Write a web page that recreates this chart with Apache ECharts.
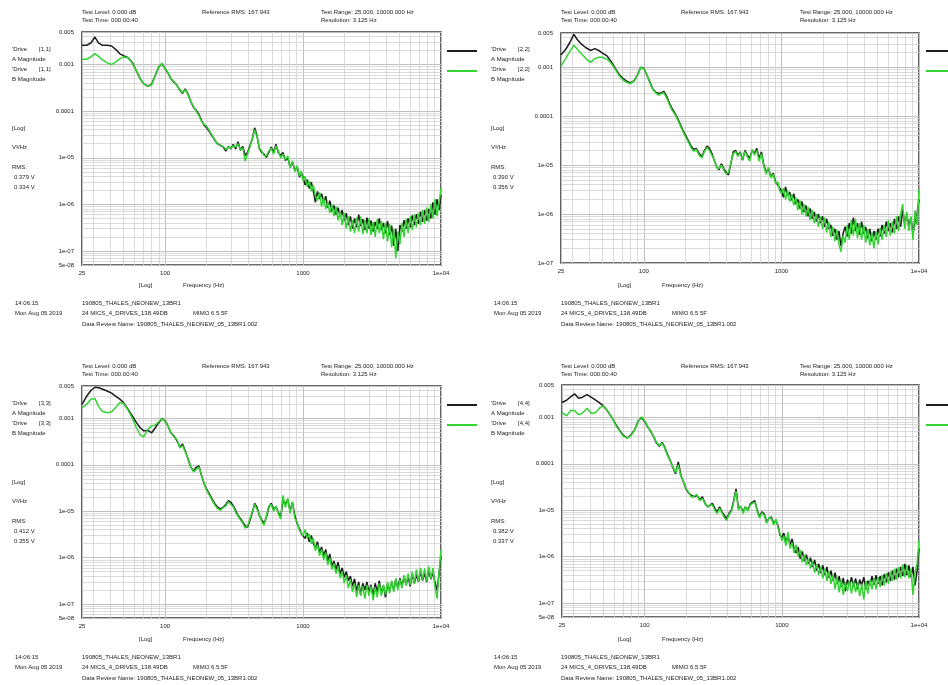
<!DOCTYPE html>
<html><head><meta charset="utf-8">
<script src="https://cdn.jsdelivr.net/npm/echarts@6/dist/echarts.min.js"></script>
<style>html,body{margin:0;padding:0;background:#fff}#c{width:948px;height:685px}</style>
</head><body><div id="c"></div>
<script>
// ---------- DATA ----------
const freqHz = [
25,27,29,31,33,35,38,41,44,47,50,54,58,62,66,70,75,80,85,90,95,100,
105,110,116,122,128,134,140,147,154,161,168,176,184,192,200,210,220,230,240,252,264,276,288,300,
312,325,338,352,366,381,396,412,429,446,464,483,502,522,543,565,588,612,636,662,688,716,745,775,806,838,872,907,943,970,
1000,1035,1071,1109,1148,1188,1229,1272,1317,1363,1411,1460,1511,1564,1619,1675,1734,1795,1857,1922,1990,2059,2131,2206,2283,2363,2446,2532,2620,2712,2807,2905,3007,3112,3221,3334,3450,3571,3696,3825,3959,4098,4241,4390,4543,4702,4867,5037,5214,5396,5585,5780,5983,6192,6409,6633,6865,7106,7354,7612,7878,8154,8439,8735,9040,9357,9684,10000];

const drive11A = [
2.6e-3,2.6e-3,2.9e-3,3.9e-3,2.9e-3,2.6e-3,2.6e-3,2.5e-3,2.1e-3,1.7e-3,1.55e-3,1.4e-3,1.1e-3,7.3e-4,5.0e-4,3.9e-4,3.4e-4,3.8e-4,5.9e-4,8.9e-4,1.05e-3,8.2e-4,
6.6e-4,5.0e-4,4.2e-4,3.6e-4,2.8e-4,2.4e-4,3.0e-4,2.3e-4,1.58e-4,1.2e-4,1.05e-4,8.5e-5,6.3e-5,5.0e-5,4.4e-5,3.6e-5,2.9e-5,2.35e-5,2.0e-5,1.85e-5,1.7e-5,1.4e-5,1.75e-5,1.55e-5,
1.95e-5,1.55e-5,2.2e-5,1.45e-5,1.75e-5,1.12e-5,1.3e-5,1.8e-5,2.6e-5,4.4e-5,3.0e-5,1.55e-5,1.3e-5,1.2e-5,1.02e-5,1.3e-5,1.7e-5,1.3e-5,1.95e-5,1.3e-5,1.12e-5,1.3e-5,8.7e-6,1.02e-5,6.3e-6,8.1e-6,5.4e-6,6.3e-6,3.8e-6,4.9e-6,
3.8e-6,2.6e-6,3.4e-6,2.2e-6,3.0e-6,1.9e-6,1.1e-6,1.9e-6,1.3e-6,1.7e-6,1.1e-6,1.5e-6,8.5e-7,1.2e-6,7.0e-7,9.5e-7,6.0e-7,8.5e-7,5.5e-7,7.5e-7,4.5e-7,6.5e-7,3.6e-7,5.5e-7,3.0e-7,5.0e-7,3.2e-7,6.0e-7,3.4e-7,4.8e-7,2.8e-7,5.2e-7,3.0e-7,4.5e-7,2.6e-7,4.2e-7,3.0e-7,5.0e-7,2.8e-7,4.0e-7,2.4e-7,4.4e-7,2.2e-7,3.5e-7,1.3e-7,3.0e-7,1.0e-7,3.6e-7,2.6e-7,4.6e-7,3.0e-7,5.0e-7,3.2e-7,5.8e-7,3.6e-7,6.2e-7,3.8e-7,7.0e-7,4.2e-7,7.5e-7,4.5e-7,8.0e-7,5.0e-7,1.1e-6,6.0e-7,1.3e-6,7.5e-7,1.6e-6];
const drive11B = [
1.3e-3,1.3e-3,1.46e-3,1.72e-3,1.5e-3,1.28e-3,1.09e-3,1.0e-3,1.14e-3,1.32e-3,1.46e-3,1.4e-3,1.05e-3,7.3e-4,4.9e-4,3.9e-4,3.4e-4,3.7e-4,5.9e-4,9.1e-4,1.07e-3,8.0e-4,
6.8e-4,5.1e-4,4.3e-4,3.5e-4,2.9e-4,2.5e-4,2.9e-4,2.2e-4,1.6e-4,1.25e-4,1.0e-4,8.0e-5,6.0e-5,5.2e-5,4.8e-5,3.8e-5,3.0e-5,2.4e-5,2.0e-5,1.8e-5,1.75e-5,1.5e-5,1.7e-5,1.6e-5,
1.8e-5,1.7e-5,2.0e-5,1.5e-5,1.6e-5,8.5e-6,1.2e-5,1.7e-5,2.5e-5,4.0e-5,2.8e-5,1.6e-5,1.4e-5,1.1e-5,1.1e-5,1.4e-5,1.6e-5,1.2e-5,1.8e-5,1.4e-5,1.0e-5,1.2e-5,9.0e-6,1.1e-5,6.0e-6,8.5e-6,5.0e-6,6.8e-6,4.0e-6,5.2e-6,
3.2e-6,4.0e-6,2.4e-6,3.2e-6,1.9e-6,2.6e-6,1.5e-6,1.2e-6,1.8e-6,9.0e-7,1.4e-6,8.0e-7,1.1e-6,6.5e-7,1.0e-6,5.5e-7,9.0e-7,4.5e-7,7.0e-7,3.6e-7,6.5e-7,3.0e-7,5.5e-7,2.6e-7,4.6e-7,2.4e-7,5.2e-7,2.6e-7,5.5e-7,2.3e-7,4.6e-7,2.4e-7,5.0e-7,2.2e-7,4.2e-7,2.0e-7,4.8e-7,2.4e-7,4.4e-7,1.8e-7,4.0e-7,1.6e-7,3.8e-7,1.2e-7,3.0e-7,7.0e-8,2.6e-7,1.4e-7,4.0e-7,2.0e-7,4.8e-7,2.4e-7,5.5e-7,2.8e-7,6.0e-7,3.2e-7,6.5e-7,3.6e-7,7.5e-7,3.8e-7,8.5e-7,4.2e-7,1.0e-6,5.0e-7,1.3e-6,5.5e-7,1.1e-6,2.2e-6];

const drive22A = [
1.8e-3,2.3e-3,3.2e-3,4.7e-3,3.6e-3,3.0e-3,2.5e-3,2.2e-3,2.4e-3,2.2e-3,1.95e-3,1.7e-3,1.3e-3,9.5e-4,7.2e-4,6.0e-4,5.2e-4,4.8e-4,5.3e-4,7.0e-4,1.0e-3,9.5e-4,
7.0e-4,5.2e-4,3.6e-4,3.1e-4,2.9e-4,3.0e-4,3.2e-4,2.5e-4,1.8e-4,1.4e-4,1.15e-4,9.0e-5,6.8e-5,5.2e-5,4.2e-5,3.2e-5,2.5e-5,2.1e-5,2.2e-5,1.74e-5,1.5e-5,2.0e-5,2.45e-5,2.2e-5,
1.74e-5,1.26e-5,9.3e-6,8.0e-6,1.07e-5,8.5e-6,7.2e-6,6.3e-6,1.07e-5,1.86e-5,2.0e-5,1.6e-5,1.86e-5,1.26e-5,2.0e-5,1.6e-5,1.38e-5,2.0e-5,1.74e-5,2.2e-5,1.38e-5,1.86e-5,1.0e-5,7.2e-6,8.5e-6,5.8e-6,6.8e-6,4.6e-6,3.9e-6,3.4e-6,
3.0e-6,2.2e-6,3.6e-6,2.4e-6,2.8e-6,1.9e-6,2.6e-6,1.6e-6,2.0e-6,1.3e-6,1.8e-6,1.1e-6,1.5e-6,9.0e-7,1.3e-6,8.0e-7,1.1e-6,7.0e-7,1.0e-6,6.5e-7,9.0e-7,5.5e-7,8.0e-7,5.0e-7,6.0e-7,3.6e-7,5.0e-7,3.0e-7,4.5e-7,2.2e-7,4.0e-7,5.5e-7,3.5e-7,6.5e-7,4.0e-7,8.5e-7,4.5e-7,6.5e-7,3.8e-7,7.0e-7,4.0e-7,5.5e-7,3.2e-7,5.0e-7,2.8e-7,4.5e-7,3.0e-7,5.0e-7,3.5e-7,6.0e-7,4.0e-7,7.0e-7,4.5e-7,6.5e-7,4.2e-7,8.0e-7,5.0e-7,9.0e-7,5.5e-7,1.2e-6,6.0e-7,1.0e-6,5.5e-7,8.5e-7,4.0e-7,7.0e-7,1.0e-6,2.0e-6];
const drive22B = [
1.05e-3,1.5e-3,2.1e-3,2.8e-3,2.3e-3,1.9e-3,1.5e-3,1.26e-3,1.5e-3,1.6e-3,1.6e-3,1.45e-3,1.2e-3,9.0e-4,6.8e-4,5.6e-4,4.9e-4,4.6e-4,5.2e-4,7.0e-4,1.0e-3,9.3e-4,
7.2e-4,5.0e-4,3.5e-4,3.0e-4,2.7e-4,2.9e-4,3.0e-4,2.3e-4,1.7e-4,1.3e-4,1.1e-4,8.5e-5,6.4e-5,4.9e-5,3.9e-5,3.0e-5,2.3e-5,1.9e-5,2.1e-5,1.6e-5,1.4e-5,1.9e-5,2.3e-5,2.0e-5,
1.6e-5,1.3e-5,8.8e-6,8.5e-6,1.0e-5,8.0e-6,6.6e-6,7.0e-6,1.1e-5,1.7e-5,1.9e-5,1.5e-5,1.8e-5,1.3e-5,1.9e-5,1.5e-5,1.2e-5,2.1e-5,1.6e-5,2.0e-5,1.2e-5,1.7e-5,9.5e-6,6.5e-6,9.0e-6,5.5e-6,6.5e-6,4.2e-6,4.5e-6,3.0e-6,
2.6e-6,3.4e-6,2.0e-6,3.0e-6,1.8e-6,2.5e-6,1.5e-6,2.2e-6,1.2e-6,1.9e-6,1.0e-6,1.6e-6,9.0e-7,1.4e-6,7.5e-7,1.2e-6,6.5e-7,1.0e-6,5.5e-7,9.0e-7,5.0e-7,8.5e-7,4.2e-7,7.0e-7,3.4e-7,5.5e-7,2.8e-7,4.8e-7,2.4e-7,1.7e-7,3.6e-7,2.6e-7,6.0e-7,3.0e-7,7.5e-7,3.6e-7,8.0e-7,3.2e-7,6.5e-7,3.0e-7,6.0e-7,2.6e-7,5.0e-7,2.3e-7,4.2e-7,2.0e-7,4.5e-7,2.4e-7,5.2e-7,3.0e-7,6.0e-7,3.4e-7,7.5e-7,3.6e-7,7.0e-7,4.0e-7,9.0e-7,4.5e-7,1.0e-6,1.6e-6,5.0e-7,1.1e-6,4.5e-7,9.0e-7,3.0e-7,1.2e-6,6.0e-7,3.2e-6];

const drive33A = [
2.0e-3,3.0e-3,4.0e-3,4.7e-3,4.6e-3,4.3e-3,3.9e-3,3.5e-3,3.0e-3,2.6e-3,2.2e-3,1.56e-3,1.12e-3,8.1e-4,6.3e-4,5.4e-4,5.5e-4,4.9e-4,6.3e-4,8.1e-4,1.0e-3,8.8e-4,
6.9e-4,4.9e-4,4.2e-4,3.3e-4,2.4e-4,2.8e-4,2.0e-4,1.3e-4,8.8e-5,7.4e-5,8.8e-5,9.5e-5,5.8e-5,3.9e-5,3.0e-5,2.35e-5,1.8e-5,1.44e-5,1.23e-5,1.12e-5,1.23e-5,1.4e-5,1.7e-5,1.55e-5,
1.32e-5,1.03e-5,8.1e-6,6.9e-6,5.8e-6,4.9e-6,4.5e-6,6.3e-6,9.5e-6,1.48e-5,1.22e-5,8.1e-6,6.5e-6,5.5e-6,7.4e-6,1.22e-5,1.48e-5,1.12e-5,1.25e-5,9.5e-6,7.4e-6,1.7e-5,1.45e-5,1.8e-5,1.03e-5,1.55e-5,8.1e-6,5.4e-6,4.2e-6,3.3e-6,
3.6e-6,2.6e-6,3.4e-6,2.2e-6,3.0e-6,2.0e-6,1.6e-6,2.2e-6,1.3e-6,1.7e-6,1.1e-6,1.5e-6,8.5e-7,1.2e-6,6.5e-7,8.5e-7,5.5e-7,8.0e-7,4.5e-7,6.0e-7,3.8e-7,5.0e-7,3.2e-7,4.0e-7,2.4e-7,3.5e-7,1.9e-7,3.0e-7,1.6e-7,2.8e-7,2.0e-7,3.0e-7,1.8e-7,2.6e-7,1.5e-7,2.8e-7,1.8e-7,3.2e-7,1.7e-7,2.5e-7,1.4e-7,2.7e-7,1.9e-7,3.0e-7,2.0e-7,3.4e-7,2.2e-7,3.6e-7,2.4e-7,4.0e-7,2.6e-7,3.8e-7,2.4e-7,4.4e-7,2.8e-7,4.2e-7,3.0e-7,5.0e-7,3.2e-7,4.6e-7,3.0e-7,5.5e-7,3.4e-7,4.8e-7,3.0e-7,2.0e-7,4.5e-7,1.1e-6];
const drive33B = [
1.7e-3,2.0e-3,2.6e-3,2.7e-3,1.8e-3,1.43e-3,1.32e-3,1.4e-3,1.75e-3,2.2e-3,2.1e-3,1.5e-3,1.0e-3,6.3e-4,4.4e-4,4.0e-4,5.8e-4,6.9e-4,7.2e-4,8.5e-4,1.0e-3,8.5e-4,
7.0e-4,5.0e-4,4.0e-4,3.5e-4,2.3e-4,2.6e-4,1.9e-4,1.35e-4,9.0e-5,7.0e-5,8.0e-5,9.0e-5,6.0e-5,4.0e-5,2.8e-5,2.2e-5,1.7e-5,1.35e-5,1.15e-5,1.05e-5,1.2e-5,1.3e-5,1.6e-5,1.4e-5,
1.25e-5,9.5e-6,7.8e-6,6.5e-6,5.5e-6,4.3e-6,4.8e-6,6.8e-6,1.0e-5,1.4e-5,1.1e-5,8.5e-6,6.0e-6,5.0e-6,8.0e-6,1.3e-5,1.4e-5,1.0e-5,1.3e-5,9.0e-6,6.8e-6,2.2e-5,1.2e-5,1.9e-5,9.0e-6,1.6e-5,7.0e-6,5.8e-6,3.8e-6,3.6e-6,
3.0e-6,4.0e-6,2.6e-6,3.2e-6,2.0e-6,2.6e-6,1.4e-6,1.9e-6,1.1e-6,1.5e-6,9.0e-7,1.3e-6,7.0e-7,1.0e-6,5.5e-7,7.5e-7,4.5e-7,6.5e-7,3.6e-7,5.0e-7,2.8e-7,4.2e-7,2.2e-7,3.4e-7,1.8e-7,2.8e-7,1.4e-7,2.6e-7,1.5e-7,2.4e-7,1.3e-7,2.6e-7,1.5e-7,2.4e-7,1.2e-7,2.3e-7,1.4e-7,2.8e-7,1.5e-7,2.6e-7,1.6e-7,3.0e-7,1.7e-7,3.2e-7,1.8e-7,3.6e-7,2.0e-7,3.4e-7,2.2e-7,4.2e-7,2.5e-7,4.6e-7,2.6e-7,5.0e-7,2.8e-7,5.5e-7,3.0e-7,6.0e-7,3.3e-7,5.8e-7,3.1e-7,6.5e-7,3.5e-7,6.0e-7,2.4e-7,1.3e-7,5.0e-7,1.5e-6];

const drive44A = [
2.1e-3,2.35e-3,2.8e-3,3.2e-3,2.6e-3,2.7e-3,3.1e-3,2.7e-3,2.35e-3,2.05e-3,1.78e-3,1.34e-3,9.7e-4,6.9e-4,5.2e-4,4.1e-4,3.6e-4,4.3e-4,5.6e-4,8.5e-4,1.0e-3,8.2e-4,
6.3e-4,5.2e-4,3.9e-4,2.8e-4,2.4e-4,2.9e-4,2.3e-4,1.58e-4,1.18e-4,8.2e-5,6.1e-5,1.1e-4,5.6e-5,4.1e-5,2.9e-5,2.3e-5,2.1e-5,1.94e-5,2.1e-5,1.7e-5,1.94e-5,1.4e-5,1.18e-5,1.28e-5,
1.4e-5,1.1e-5,9.2e-6,1.18e-5,9.2e-6,7.8e-6,6.6e-6,8.5e-6,1.0e-5,1.6e-5,2.9e-5,1.1e-5,1.2e-5,9.2e-6,1.18e-5,1.0e-5,1.35e-5,1.5e-5,1.6e-5,1.0e-5,7.2e-6,9.2e-6,8.3e-6,5.6e-6,6.6e-6,7.2e-6,5.2e-6,6.1e-6,4.4e-6,2.9e-6,
2.6e-6,3.2e-6,2.0e-6,2.8e-6,1.8e-6,2.4e-6,1.5e-6,1.2e-6,1.6e-6,9.0e-7,1.3e-6,8.0e-7,1.1e-6,7.0e-7,9.5e-7,6.0e-7,8.5e-7,5.0e-7,7.0e-7,4.5e-7,6.5e-7,4.0e-7,6.0e-7,3.5e-7,5.0e-7,3.0e-7,4.5e-7,2.6e-7,3.8e-7,2.2e-7,3.5e-7,1.8e-7,3.2e-7,2.4e-7,3.6e-7,2.2e-7,3.4e-7,2.0e-7,3.2e-7,2.4e-7,3.6e-7,2.0e-7,3.0e-7,2.4e-7,3.8e-7,2.5e-7,4.0e-7,2.6e-7,3.8e-7,2.4e-7,4.2e-7,2.8e-7,4.6e-7,3.0e-7,5.0e-7,3.2e-7,5.5e-7,3.6e-7,6.0e-7,3.8e-7,7.0e-7,4.0e-7,6.5e-7,3.6e-7,6.0e-7,2.4e-7,5.0e-7,1.5e-6];
const drive44B = [
1.28e-3,1.08e-3,1.43e-3,1.4e-3,1.14e-3,1.22e-3,1.58e-3,1.22e-3,1.28e-3,1.6e-3,1.78e-3,1.34e-3,9.7e-4,6.6e-4,5.0e-4,3.9e-4,3.6e-4,4.1e-4,5.6e-4,8.2e-4,1.03e-3,8.5e-4,
6.5e-4,5.0e-4,4.0e-4,2.9e-4,2.5e-4,2.8e-4,2.2e-4,1.5e-4,1.15e-4,8.5e-5,6.5e-5,9.5e-5,5.4e-5,4.2e-5,3.0e-5,2.4e-5,1.9e-5,2.0e-5,2.2e-5,1.6e-5,1.8e-5,1.35e-5,1.2e-5,1.3e-5,
1.3e-5,1.0e-5,8.5e-6,1.1e-5,8.8e-6,7.0e-6,6.0e-6,8.0e-6,9.5e-6,1.5e-5,2.6e-5,1.0e-5,1.25e-5,8.5e-6,1.2e-5,9.5e-6,1.3e-5,1.4e-5,1.5e-5,9.5e-6,6.8e-6,8.8e-6,7.8e-6,5.2e-6,7.0e-6,6.8e-6,4.8e-6,6.5e-6,4.0e-6,3.2e-6,
2.2e-6,2.8e-6,1.7e-6,3.4e-6,1.5e-6,2.0e-6,1.2e-6,1.8e-6,1.0e-6,1.4e-6,7.5e-7,1.1e-6,6.5e-7,9.0e-7,5.5e-7,8.0e-7,4.5e-7,7.0e-7,4.0e-7,6.0e-7,3.4e-7,5.5e-7,3.0e-7,4.8e-7,2.6e-7,4.0e-7,2.0e-7,3.6e-7,1.7e-7,3.2e-7,1.5e-7,2.8e-7,1.8e-7,3.0e-7,1.6e-7,3.0e-7,1.7e-7,2.8e-7,1.4e-7,2.6e-7,1.2e-7,3.0e-7,1.6e-7,3.2e-7,2.0e-7,3.5e-7,2.0e-7,3.6e-7,2.2e-7,4.0e-7,2.4e-7,4.4e-7,2.6e-7,4.8e-7,3.0e-7,5.5e-7,3.2e-7,6.0e-7,3.4e-7,6.8e-7,3.6e-7,6.5e-7,3.4e-7,5.5e-7,1.5e-7,4.5e-7,7.0e-7,2.2e-6];

const channelLabels = ['[1,1]','[2,2]','[3,3]','[4,4]'];
const rmsA = ['0.379 V','0.390 V','0.412 V','0.382 V'];
const rmsB = ['0.334 V','0.356 V','0.355 V','0.337 V'];
const yAxisMin = [5e-8, 1e-7, 5e-8, 5e-8];
const yAxisMax = [0.005, 0.005, 0.005, 0.005];
const xAxisMin = 25, xAxisMax = 10000;
const xMinorGrid = [30,40,50,60,70,80,90,200,300,400,500,600,700,800,900,2000,3000,4000,5000,6000,7000,8000,9000];
const yMinorGrid = [6e-8,7e-8,8e-8,9e-8,2e-7,3e-7,4e-7,5e-7,6e-7,7e-7,8e-7,9e-7,2e-6,3e-6,4e-6,5e-6,6e-6,7e-6,8e-6,9e-6,2e-5,3e-5,4e-5,5e-5,6e-5,7e-5,8e-5,9e-5,2e-4,3e-4,4e-4,5e-4,6e-4,7e-4,8e-4,9e-4,2e-3,3e-3,4e-3];
const seriesA = [drive11A, drive22A, drive33A, drive44A];
const seriesB = [drive11B, drive22B, drive33B, drive44B];

// ---------- LAYOUT ----------
const FONT = '"Liberation Sans", Arial, sans-serif';
const panels = [
  {ox:0,   oy:0,   grid:{left:82,  top:32,  width:359, height:233}},
  {ox:479, oy:0,   grid:{left:561, top:33,  width:358, height:230}},
  {ox:0,   oy:354, grid:{left:82,  top:386, width:359, height:232}},
  {ox:479, oy:354, grid:{left:562, top:385, width:357, height:232}}
];

function fmtY(v){
  const n = Math.floor(Math.log10(v) + 1e-9);
  const m = Math.round(v / Math.pow(10, n));
  if (n >= -4) return (m * Math.pow(10, n)).toFixed(-n);
  return m + 'e-' + String(-n).padStart(2, '0');
}
function fmtX(v){
  const r = Math.round(v);
  return r >= 10000 ? '1e+04' : String(r);
}
function pairs(arr){
  const out = [];
  const n = Math.min(freqHz.length, arr.length);
  for (let i = 0; i < n; i++) out.push([freqHz[i], arr[i]]);
  return out;
}

const grids = [], xAxes = [], yAxes = [], series = [], legends = [], graphics = [];
panels.forEach((p, k) => {
  grids.push(Object.assign({show:true, borderColor:'#3a3a3a', borderWidth:1.6, backgroundColor:'transparent'}, p.grid));
  xAxes.push({
    type:'log', logBase:10, gridIndex:k, min:xAxisMin, max:xAxisMax,
    axisLine:{show:false}, axisTick:{show:false},
    axisLabel:{formatter:fmtX, fontSize:6, fontFamily:FONT, color:'#222', margin:5, interval:0, showMinLabel:true, showMaxLabel:true},
    splitLine:{show:true, lineStyle:{color:'#c0c0c0', width:1}}
  });
  yAxes.push({
    type:'log', logBase:10, gridIndex:k, min:yAxisMin[k], max:yAxisMax[k],
    axisLine:{show:false}, axisTick:{show:false},
    axisLabel:{formatter:fmtY, fontSize:6, fontFamily:FONT, color:'#222', margin:8, padding:[0,0,4,0], showMinLabel:true, showMaxLabel:true},
    splitLine:{show:true, lineStyle:{color:'#c0c0c0', width:1}}
  });
  const nameA = "'Drive " + channelLabels[k] + ' A Magnitude';
  const nameB = "'Drive " + channelLabels[k] + ' B Magnitude';
  const vLines = xMinorGrid.map(f => [{coord:[f, yAxisMin[k]]}, {coord:[f, yAxisMax[k]]}]);
  const hLines = yMinorGrid.filter(v => v > yAxisMin[k] && v < yAxisMax[k])
    .map(v => [{coord:[xAxisMin, v]}, {coord:[xAxisMax, v]}]);
  series.push({
    name:nameA, type:'line', xAxisIndex:k, yAxisIndex:k, data:pairs(seriesA[k]),
    showSymbol:false, symbol:'none', z:3, color:'#1c1c1c',
    lineStyle:{color:'#1c1c1c', width:1.5}, animation:false, silent:true,
    markLine:{silent:true, symbol:['none','none'], label:{show:false}, z:1, animation:false,
      lineStyle:{color:'#d2d2d2', width:0.8, type:'solid'}, emphasis:{disabled:true}, data:vLines.concat(hLines)}
  });
  series.push({
    name:nameB, type:'line', xAxisIndex:k, yAxisIndex:k, data:pairs(seriesB[k]),
    showSymbol:false, symbol:'none', z:4, color:'#33d433',
    lineStyle:{color:'#33d433', width:1.5}, animation:false, silent:true
  });
  legends.push({
    left:p.ox + 447, top:p.oy + 50, orient:'vertical', icon:'rect', itemWidth:30, itemHeight:2, itemGap:18,
    padding:0, selectedMode:false, data:[nameA, nameB], formatter:() => '', textStyle:{fontSize:1}
  });
  const t = (x, y, s) => ({type:'text', x:p.ox + x, y:p.oy + y, silent:true,
    style:{text:s, font:'6px ' + FONT, fill:'#222', verticalAlign:'middle'}});
  graphics.push(
    t(82, 12, 'Test Level: 0.000 dB'),
    t(82, 20, 'Test Time: 000:00:40'),
    t(202, 12, 'Reference RMS: 167.943'),
    t(321, 12, 'Test Range: 25.000, 10000.000 Hz'),
    t(321, 20, 'Resolution: 3.125 Hz'),
    t(12, 49, "'Drive"), t(39, 49, channelLabels[k]),
    t(12, 59, 'A Magnitude'),
    t(12, 69, "'Drive"), t(39, 69, channelLabels[k]),
    t(12, 79, 'B Magnitude'),
    t(12, 128, '[Log]'),
    t(12, 147, 'V²/Hz'),
    t(12, 167, 'RMS:'),
    t(14, 177, rmsA[k]),
    t(14, 187, rmsB[k]),
    t(139, 285, '[Log]'),
    t(183, 285, 'Frequency (Hz)'),
    t(15, 303, '14:06:15'),
    t(15, 313, 'Mon Aug 05 2019'),
    t(82, 303, '190805_THALES_NEONEW_13BR1'),
    t(82, 313, '24 MICS_4_DRIVES_138.49DB'),
    t(193, 313, 'MIMO 6.5.5F'),
    t(82, 324, 'Data Review Name: 190805_THALES_NEONEW_05_13BR1.002')
  );
});

const chart = echarts.init(document.getElementById('c'), null, {renderer:'canvas', width:948, height:685});
chart.setOption({
  backgroundColor:'#ffffff',
  animation:false,
  grid:grids, xAxis:xAxes, yAxis:yAxes, series:series, legend:legends,
  graphic:{elements:graphics}
});
</script>
</body></html>
